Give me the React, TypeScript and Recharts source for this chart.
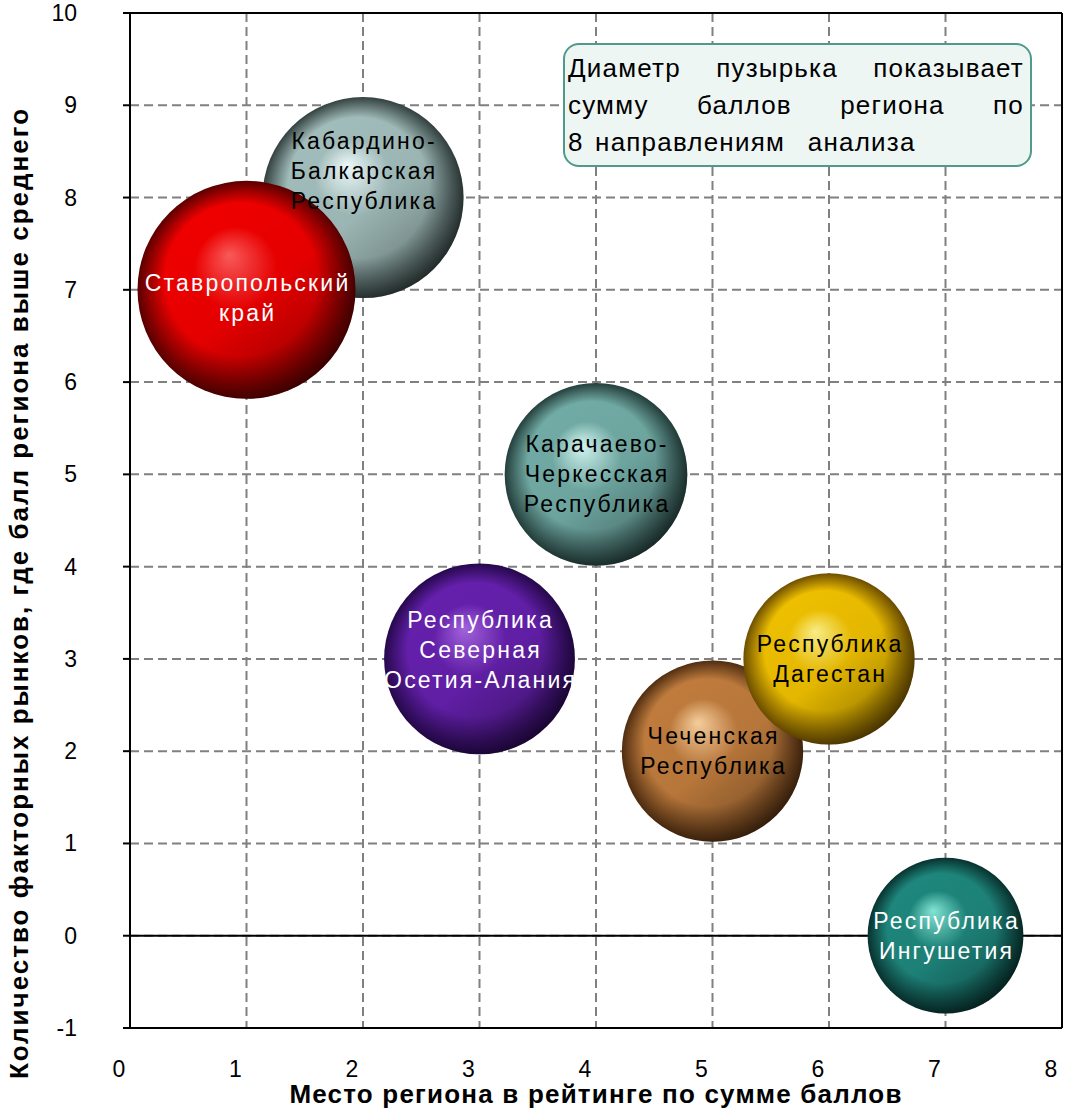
import React from "react";
import {
  ScatterChart,
  Scatter,
  XAxis,
  YAxis,
  ZAxis,
  CartesianGrid,
  ReferenceLine,
} from "recharts";

// regions in drawing order (later ones lie on top)
const regions = [
  "Кабардино-Балкарская Республика",
  "Ставропольский край",
  "Карачаево-Черкесская Республика",
  "Республика Северная Осетия-Алания",
  "Чеченская Республика",
  "Республика Дагестан",
  "Республика Ингушетия",
];
const bubbleLines = [
  ["Кабардино-", "Балкарская", "Республика"],
  ["Ставропольский", "край"],
  ["Карачаево-", "Черкесская", "Республика"],
  ["Республика", "Северная", "Осетия-Алания"],
  ["Чеченская", "Республика"],
  ["Республика", "Дагестан"],
  ["Республика", "Ингушетия"],
];
// место региона в рейтинге по сумме баллов
const ratingPlace = [2, 1, 4, 3, 5, 6, 7];
// количество факторных рынков, где балл региона выше среднего
const marketsAboveAvg = [8, 7, 5, 3, 2, 3, 0];
// сумма баллов по 8 направлениям (диаметр пузырька)
const scoreSum = [40, 47, 33, 36, 32.5, 29, 24];

const xTicks = [0, 1, 2, 3, 4, 5, 6, 7, 8];
const yTicks = [-1, 0, 1, 2, 3, 4, 5, 6, 7, 8, 9, 10];

const chartData = regions.map((name, i) => ({
  name,
  lines: bubbleLines[i],
  x: ratingPlace[i],
  y: marketsAboveAvg[i],
  z: scoreSum[i],
}));

const FONT = "Arial, 'Liberation Sans', sans-serif";
const MAX_R = 109;

const sphere: Record<string, { hi: string; mid: string; lo: string; text: string; shift: number }> = {
  "Кабардино-Балкарская Республика": { hi: "#f2ffff", mid: "#a2bebc", lo: "#33413f", text: "#000", shift: -27 },
  "Ставропольский край": { hi: "#ff5c5c", mid: "#f00000", lo: "#5a0000", text: "#fff", shift: 8 },
  "Карачаево-Черкесская Республика": { hi: "#d8fbf6", mid: "#72aca6", lo: "#243f3c", text: "#000", shift: 0 },
  "Республика Северная Осетия-Алания": { hi: "#a765e2", mid: "#6520ad", lo: "#26084c", text: "#fff", shift: -9 },
  "Чеченская Республика": { hi: "#fcd3a0", mid: "#c07c3d", lo: "#4f2d10", text: "#000", shift: 0 },
  "Республика Дагестан": { hi: "#fff38a", mid: "#efc000", lo: "#6e4f00", text: "#000", shift: 0 },
  "Республика Ингушетия": { hi: "#86ead9", mid: "#1e877d", lo: "#08322f", text: "#fff", shift: 0 },
};

const gradId = (name: string) => "g" + regions.indexOf(name);

function Bubble(props: any) {
  const { cx, cy, payload } = props;
  const r = props.width ? props.width / 2 : Math.sqrt((props.size || 0) / Math.PI);
  return (
    <g>
      <circle cx={cx} cy={cy} r={r} fill={`url(#${gradId(payload.name)})`} />
      <circle cx={cx} cy={cy} r={r} fill="url(#shade)" />
    </g>
  );
}

function BubbleLabel(props: any) {
  const { cx, cy, payload } = props;
  const s = sphere[payload.name];
  const lines: string[] = payload.lines;
  const lh = 30;
  const top = cy + s.shift - ((lines.length - 1) * lh) / 2;
  return (
    <g>
      {lines.map((t, i) => (
        <text
          key={i}
          x={cx + 1.1}
          y={top + i * lh}
          textAnchor="middle"
          dominantBaseline="central"
          fontFamily={FONT}
          fontSize={23}
          letterSpacing={2.2}
          fill={s.text}
        >
          {t}
        </text>
      ))}
    </g>
  );
}

function XTick(props: any) {
  const { x, y, payload } = props;
  return (
    <text x={x - 11} y={y} dy={16} textAnchor="middle" fontFamily={FONT} fontSize={23} fill="#000">
      {payload.value}
    </text>
  );
}

function YTick(props: any) {
  const { x, y, payload } = props;
  return (
    <text x={x} y={y} dy={8} textAnchor="end" fontFamily={FONT} fontSize={23} fill="#000">
      {payload.value}
    </text>
  );
}

const noteLine: React.CSSProperties = {
  display: "flex",
  justifyContent: "space-between",
  height: 37,
  lineHeight: "37px",
};

export default function App() {
  return (
    <div
      style={{
        position: "absolute",
        left: 0,
        top: 0,
        width: 1066,
        height: 1117,
        background: "#fff",
        fontFamily: FONT,
      }}
    >
      <svg width={0} height={0} style={{ position: "absolute" }}>
        <defs>
          {regions.map((name) => {
            const s = sphere[name];
            return (
              <radialGradient key={name} id={gradId(name)} cx="50%" cy="50%" r="50%" fx="42%" fy="34%">
                <stop offset="0%" stopColor={s.hi} />
                <stop offset="38%" stopColor={s.mid} />
                <stop offset="70%" stopColor={s.mid} />
                <stop offset="100%" stopColor={s.lo} />
              </radialGradient>
            );
          })}
          <linearGradient id="shade" x1="0.2" y1="0.15" x2="0.85" y2="0.95">
            <stop offset="0%" stopColor="#000" stopOpacity={0} />
            <stop offset="50%" stopColor="#000" stopOpacity={0.05} />
            <stop offset="100%" stopColor="#000" stopOpacity={0.4} />
          </linearGradient>
        </defs>
      </svg>
      <ScatterChart width={1066} height={1117} margin={{ top: 13, right: 4, bottom: 0, left: 0 }}>
        <CartesianGrid stroke="#808080" strokeDasharray="9 5" strokeWidth={2} />
        <XAxis
          type="number"
          dataKey="x"
          domain={[0, 8]}
          ticks={xTicks}
          allowDataOverflow
          height={89}
          tickLine={false}
          tickSize={0}
          tickMargin={33}
          axisLine={{ stroke: "#000", strokeWidth: 2 }}
          tick={<XTick />}
          label={{
            content: (p: any) => {
              const vb = p.viewBox;
              return (
                <text
                  x={vb.x + vb.width / 2}
                  y={1103}
                  textAnchor="middle"
                  fontFamily={FONT}
                  fontSize={26}
                  letterSpacing={1.2}
                  fontWeight="bold"
                  fill="#000"
                >
                  Место региона в рейтинге по сумме баллов
                </text>
              );
            },
          }}
        />
        <YAxis
          type="number"
          dataKey="y"
          domain={[-1, 10]}
          ticks={yTicks}
          allowDataOverflow
          width={130}
          tickSize={7}
          tickMargin={46}
          tickLine={{ stroke: "#000", strokeWidth: 2 }}
          axisLine={{ stroke: "#000", strokeWidth: 2 }}
          tick={<YTick />}
          label={{
            content: () => (
              <text
                x={0}
                y={0}
                transform="translate(28 593) rotate(-90)"
                textAnchor="middle"
                fontFamily={FONT}
                fontSize={26}
                letterSpacing={2}
                fontWeight="bold"
                fill="#000"
              >
                Количество факторных рынков, где балл региона выше среднего
              </text>
            ),
          }}
        />
        <ZAxis type="number" dataKey="z" domain={[0, 47]} range={[0, Math.PI * MAX_R * MAX_R]} />
        <ReferenceLine y={10} stroke="#000" strokeWidth={2} />
        <ReferenceLine x={8} stroke="#000" strokeWidth={2} />
        <ReferenceLine y={0} stroke="#000" strokeWidth={2} />
        <Scatter data={chartData} shape={<Bubble />} isAnimationActive={false} />
        <Scatter data={chartData} shape={<BubbleLabel />} isAnimationActive={false} />
      </ScatterChart>
      <div
        style={{
          position: "absolute",
          left: 563,
          top: 43,
          width: 469,
          height: 124,
          boxSizing: "border-box",
          border: "2px solid #4f9a8c",
          borderRadius: 16,
          background: "#eef6f4",
          padding: "5px 6px 0 3px",
          fontSize: 26,
          letterSpacing: 1.2,
          color: "#000",
        }}
      >
        <div style={noteLine}>
          <span>Диаметр</span>
          <span>пузырька</span>
          <span>показывает</span>
        </div>
        <div style={noteLine}>
          <span>сумму</span>
          <span>баллов</span>
          <span>региона</span>
          <span>по</span>
        </div>
        <div style={{ ...noteLine, justifyContent: "flex-start", wordSpacing: 3 }}>
          8 направлениям&nbsp; анализа
        </div>
      </div>
    </div>
  );
}
